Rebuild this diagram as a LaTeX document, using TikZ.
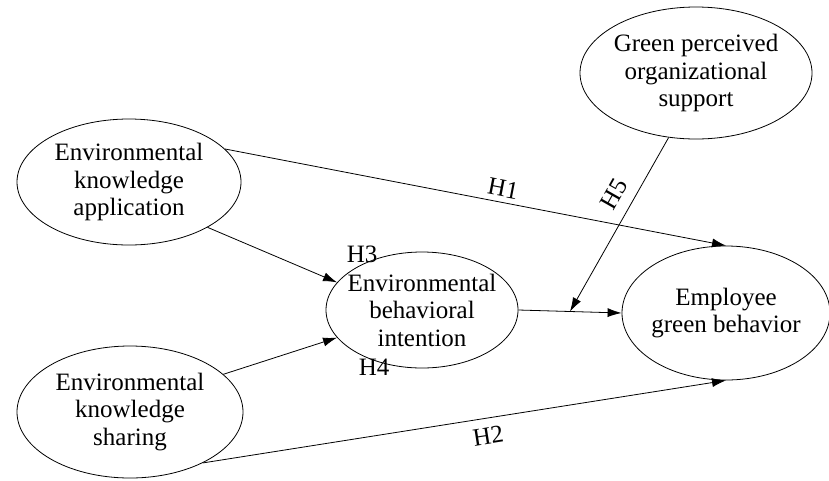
\documentclass[tikz,border=0pt]{standalone}
\usepackage{fontspec}
\setmainfont{Liberation Serif}
\usetikzlibrary{shapes.geometric,arrows.meta,positioning}

\begin{document}
\begin{tikzpicture}[x=1pt,y=-1pt,line width=0.8pt,
  font=\fontsize{25}{27.5}\selectfont,
  >={Latex[length=14pt,width=9pt]},
  construct/.style={shape=ellipse,draw=black,align=center,inner xsep=-8pt,inner ysep=0pt}]
\useasboundingbox (0,0) rectangle (829,480);
\node[construct,minimum width=224pt,minimum height=126pt] (A) at (129,182) {Environmental\\knowledge\\application};
\node[construct,minimum width=226pt,minimum height=132pt] (S) at (130,412) {Environmental\\knowledge\\sharing};
\node[construct,minimum width=192pt,minimum height=116pt] (I) at (422,310) {Environmental\\behavioral\\intention};
\node[construct,minimum width=208pt,minimum height=134pt] (E) at (726,313) {Employee\\green behavior};
\node[construct,minimum width=232pt,minimum height=132pt] (G) at (696,73) {Green perceived\\organizational\\support};
\path[->] (A.19) edge node[above=2pt,sloped,pos=.55] {H1} (E.north);
\path[->] (S.-35) edge node[below=6pt,sloped,pos=.54] {H2} (E.south);
\path[->] (A.-30) edge node[pos=1,above right=16pt and 6pt] {H3} (I.162);
\path[->] (S.22) edge node[pos=1,below right=18pt and 18pt] {H4} (I.198);
\draw[->] (I.east) -- coordinate (mid) (E.west);
\path[->] (G.-113) edge node[above=8pt,sloped,pos=.38] {H5} (mid);
\end{tikzpicture}
\end{document}
